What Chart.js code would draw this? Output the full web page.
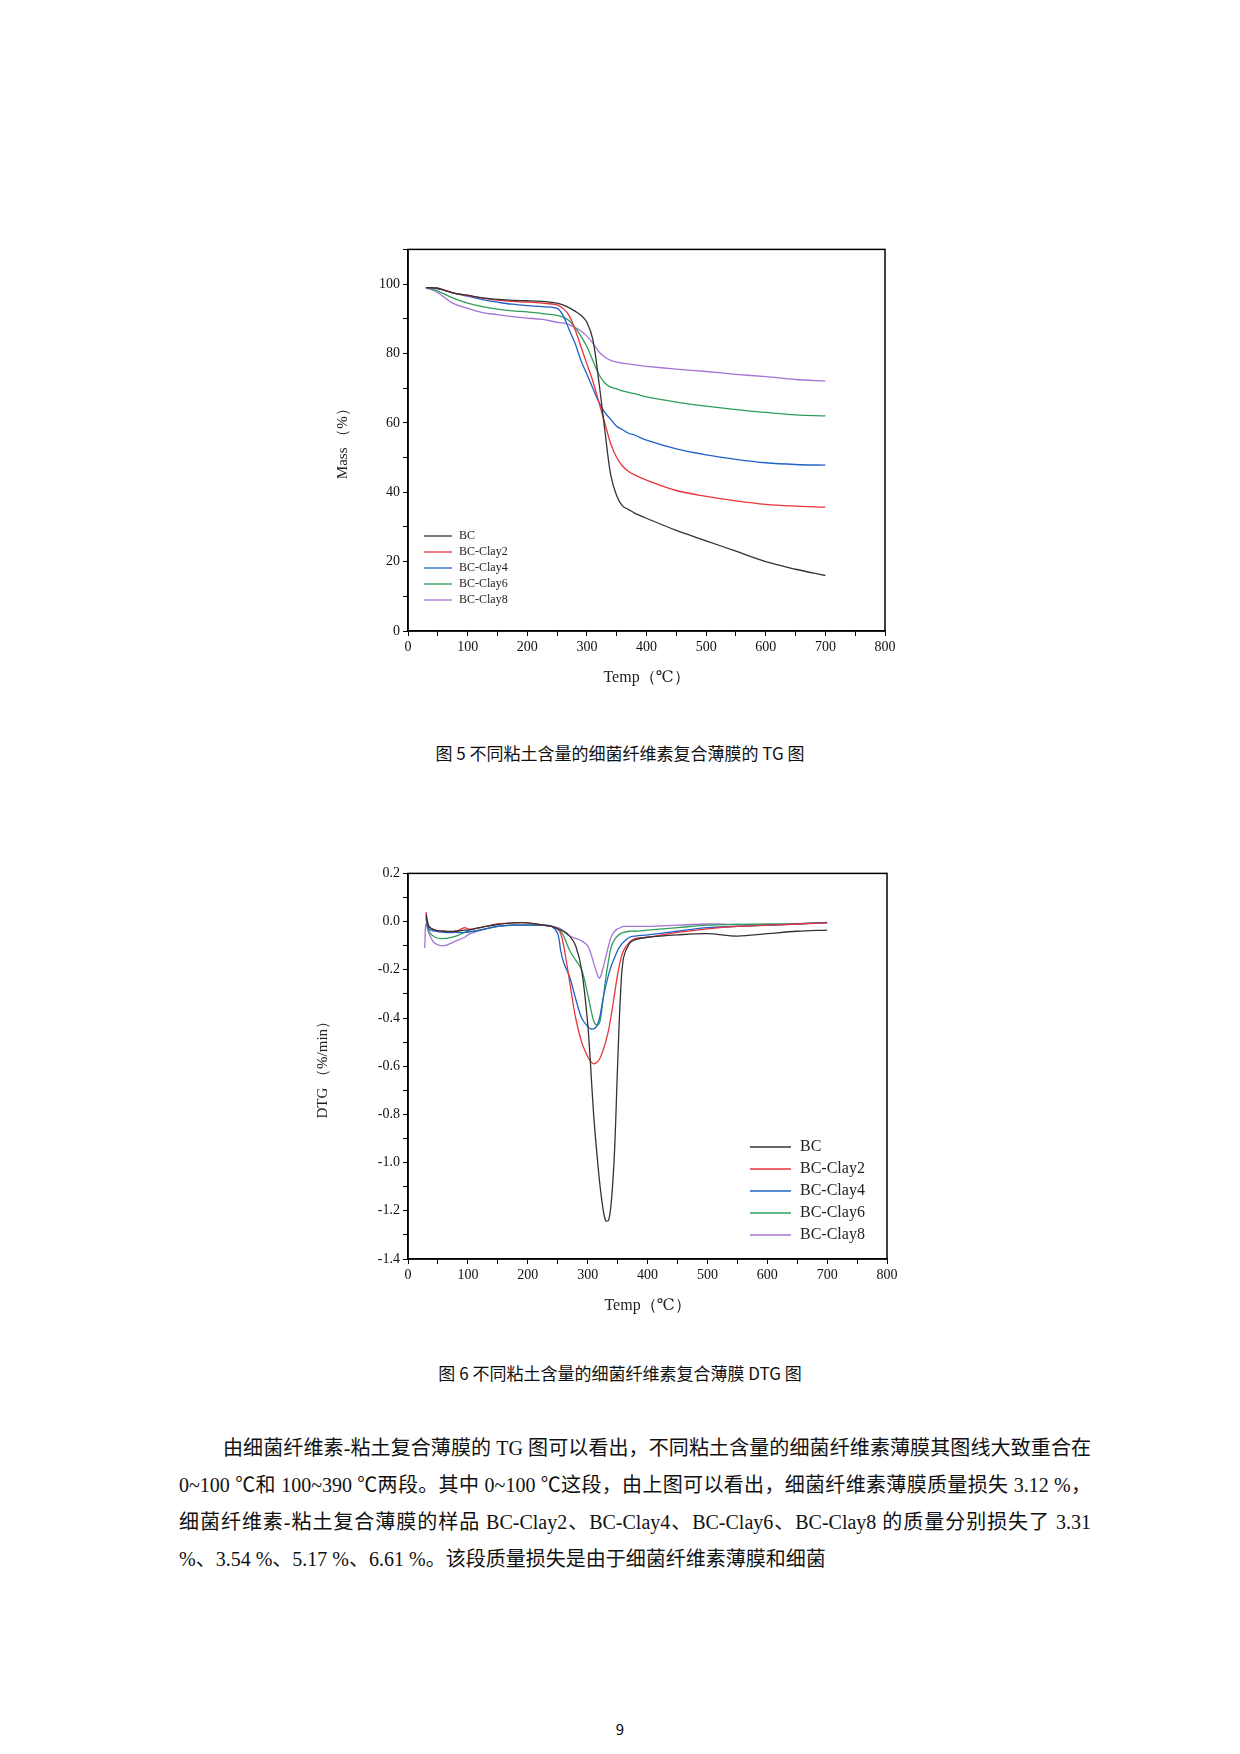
<!DOCTYPE html>
<html>
<head>
<meta charset="utf-8">
<script src="https://cdn.jsdelivr.net/npm/chart.js@4"></script>
<style>
  body { margin: 0; width: 1240px; height: 1754px; background: #fff; position: relative; font-family: "Noto Sans CJK SC", sans-serif; }
  .cv { position: absolute; }
  .cap { position: absolute; width: 1240px; text-align: center; font-size: 17px; color: #111; }
  .para { position: absolute; left: 179px; width: 912px; font-size: 20px; line-height: 37px; color: #111; text-align: justify; text-indent: 44px; top: 1430px;
          font-family: "Liberation Serif", "Noto Sans CJK SC", serif; }
  .pg { position: absolute; width: 1240px; top: 1718px; text-align: center; font-size: 15px; }
</style>
</head>
<body>
<div class="cv" style="left:330px;top:238px;width:570px;height:453px"><canvas id="tg"></canvas></div>
<div class="cap" style="top:740px">图 5 不同粘土含量的细菌纤维素复合薄膜的 TG 图</div>
<div class="cv" style="left:310px;top:862px;width:592px;height:457px"><canvas id="dtg"></canvas></div>
<div class="cap" style="top:1360px">图 6 不同粘土含量的细菌纤维素复合薄膜 DTG 图</div>
<div class="para">由细菌纤维素-粘土复合薄膜的 TG 图可以看出，不同粘土含量的细菌纤维素薄膜其图线大致重合在 0~100 ℃和 100~390 ℃两段。其中 0~100 ℃这段，由上图可以看出，细菌纤维素薄膜质量损失 3.12 %，细菌纤维素-粘土复合薄膜的样品 BC-Clay2、BC-Clay4、BC-Clay6、BC-Clay8 的质量分别损失了 3.31 %、3.54 %、5.17 %、6.61 %。该段质量损失是由于细菌纤维素薄膜和细菌</div>
<div class="pg">9</div>
<script>
'use strict';

const names = ["BC", "BC-Clay2", "BC-Clay4", "BC-Clay6", "BC-Clay8"];
const colors = ["#333333", "#e8333a", "#1f63c9", "#2e9e5b", "#a673d6"];

// --- TG data ---
const tgTemps = [30,50,75,100,125,150,175,200,225,250,260,270,280,290,300,310,320,330,340,350,360,370,380,400,450,500,550,600,650,700];
const tgBC    = [99,98.8,97.5,96.8,96,95.6,95.3,95.2,95,94.5,94,93.2,92.2,91,89,84,72,58,45,39,36,35,34,32.5,29,26,23,20,17.8,16];
const tgClay2 = [99,98.8,97.5,96.7,96,95.4,95,94.8,94.5,94,93,91,87,82,77,72,66,60,54,50,47.5,46,45,43.5,40.5,38.8,37.5,36.5,36,35.7];
const tgClay4 = [99,98.6,97.5,96.5,95.5,94.8,94.2,93.8,93.5,93,91,87,83,78,74,70,66,63,61,59,58,57,56.5,55,52.5,50.8,49.5,48.5,48,47.8];
const tgClay6 = [99,98,96,94.5,93.5,92.8,92.3,92,91.5,91,90.5,89.5,87.5,85,82,78,74,71.5,70.3,69.8,69.2,68.8,68.4,67.5,66,64.8,63.8,63,62.3,62];
const tgClay8 = [99,97.5,94.5,93,91.8,91.2,90.6,90.2,89.8,89,88.8,88.3,87.5,86.5,85,83,80.5,79,78,77.5,77.2,77,76.7,76.3,75.5,74.8,74,73.3,72.5,72];

// --- DTG data ---
const dtgTemps = [28,30,35,45,60,80,95,100,110,130,150,175,200,225,240,250,255,260,270,280,290,300,305,310,315,320,325,330,335,340,345,350,355,360,370,380,400,450,500,550,600,650,700];
const dtgBC    = [null,0.03,-0.02,-0.035,-0.04,-0.04,-0.035,-0.035,-0.03,-0.02,-0.012,-0.005,-0.005,-0.015,-0.02,-0.03,-0.035,-0.04,-0.06,-0.1,-0.2,-0.42,-0.6,-0.8,-0.95,-1.08,-1.18,-1.24,-1.24,-1.15,-0.95,-0.6,-0.3,-0.15,-0.09,-0.075,-0.065,-0.055,-0.05,-0.06,-0.05,-0.04,-0.035];
const dtgClay2 = [null,0.04,-0.02,-0.035,-0.04,-0.04,-0.025,-0.03,-0.03,-0.02,-0.01,-0.005,-0.005,-0.015,-0.02,-0.03,-0.05,-0.1,-0.25,-0.4,-0.5,-0.56,-0.58,-0.59,-0.585,-0.57,-0.54,-0.5,-0.45,-0.38,-0.3,-0.22,-0.16,-0.12,-0.085,-0.07,-0.065,-0.045,-0.03,-0.02,-0.015,-0.01,-0.005];
const dtgClay4 = [null,0.02,-0.03,-0.04,-0.045,-0.045,-0.045,-0.04,-0.04,-0.03,-0.02,-0.015,-0.015,-0.015,-0.02,-0.05,-0.12,-0.17,-0.23,-0.32,-0.4,-0.435,-0.445,-0.445,-0.435,-0.4,-0.33,-0.27,-0.22,-0.18,-0.15,-0.12,-0.1,-0.085,-0.065,-0.06,-0.055,-0.04,-0.025,-0.02,-0.015,-0.01,-0.003];
const dtgClay6 = [null,0.01,-0.04,-0.065,-0.07,-0.06,-0.045,-0.045,-0.04,-0.03,-0.02,-0.015,-0.015,-0.015,-0.02,-0.03,-0.04,-0.06,-0.12,-0.16,-0.2,-0.3,-0.36,-0.41,-0.43,-0.42,-0.34,-0.24,-0.16,-0.1,-0.075,-0.06,-0.05,-0.045,-0.04,-0.04,-0.035,-0.025,-0.015,-0.012,-0.01,-0.008,-0.005];
const dtgClay8 = [-0.11,-0.01,-0.05,-0.09,-0.1,-0.08,-0.065,-0.055,-0.045,-0.03,-0.02,-0.015,-0.015,-0.015,-0.02,-0.025,-0.03,-0.04,-0.06,-0.07,-0.08,-0.1,-0.13,-0.17,-0.21,-0.235,-0.2,-0.15,-0.1,-0.06,-0.04,-0.03,-0.025,-0.02,-0.02,-0.02,-0.02,-0.015,-0.01,-0.012,-0.015,-0.01,-0.005];

const axisFont = "'Liberation Serif', 'DejaVu Serif', serif";

function toPoints(xs, ys) {
  return xs.map((x, i) => ({ x: x, y: ys[i] }));
}

function makeDatasets(xs, series, width) {
  return series.map((s, i) => ({
    label: names[i],
    data: toPoints(xs, s),
    borderColor: colors[i],
    borderWidth: width,
    pointRadius: 0,
    tension: 0.35,
    fill: false
  }));
}

// frame + inner legend
function framePlugin(legend) {
  return {
    id: 'frame',
    afterDraw(chart) {
      const { ctx, chartArea: a } = chart;
      ctx.save();
      ctx.strokeStyle = '#000';
      ctx.lineWidth = 1.5;
      ctx.strokeRect(a.left, a.top, a.right - a.left, a.bottom - a.top);
      ctx.font = legend.size + "px " + axisFont;
      ctx.textBaseline = 'middle';
      chart.data.datasets.forEach((ds, i) => {
        const y = legend.y + i * legend.gap;
        ctx.strokeStyle = ds.borderColor;
        ctx.lineWidth = legend.lw;
        ctx.beginPath();
        ctx.moveTo(legend.x, y);
        ctx.lineTo(legend.x + legend.len, y);
        ctx.stroke();
        ctx.fillStyle = '#222';
        ctx.fillText(ds.label, legend.x + legend.len + legend.pad, y);
      });
      ctx.restore();
    }
  };
}

function makeOptions(cfg) {
  return {
    responsive: true,
    maintainAspectRatio: false,
    animation: false,
    layout: { padding: { top: 10, right: 15, left: 0, bottom: 0 } },
    plugins: { legend: { display: false }, tooltip: { enabled: false } },
    scales: {
      x: {
        type: 'linear', min: 0, max: 800,
        afterFit: s => { s.height = 60; },
        ticks: { stepSize: 50, color: '#111', font: { family: axisFont, size: 14 },
                 callback: v => (v % 100 === 0 ? v : '') , maxRotation: 0, autoSkip: false },
        grid: { drawOnChartArea: false, tickLength: 5, color: '#000' },
        border: { color: '#000', width: 1.5 },
        title: { display: true, text: 'Temp（℃）', color: '#222', font: { family: axisFont, size: 16 }, padding: { top: 2 } }
      },
      y: {
        min: cfg.ymin, max: cfg.ymax,
        afterFit: s => { s.width = cfg.yWidth; },
        ticks: { stepSize: cfg.minor, color: '#111', font: { family: axisFont, size: 14 }, autoSkip: false,
                 callback: cfg.tickCb },
        grid: { drawOnChartArea: false, tickLength: 5, color: '#000' },
        border: { color: '#000', width: 1.5 },
        title: { display: true, text: cfg.ytitle, color: '#222', font: { family: axisFont, size: 15 } }
      }
    }
  };
}

new Chart(document.getElementById('tg'), {
  type: 'line',
  data: { datasets: makeDatasets(tgTemps, [tgBC, tgClay2, tgClay4, tgClay6, tgClay8], 1.3) },
  options: makeOptions({
    ymin: 0, ymax: 110, minor: 10, yWidth: 78, ytitle: 'Mass （%）',
    tickCb: v => (v % 20 === 0 && v <= 100 ? v : '')
  }),
  plugins: [framePlugin({ x: 94, y: 298, gap: 16, len: 28, pad: 7, size: 12, lw: 1.3 })]
});

new Chart(document.getElementById('dtg'), {
  type: 'line',
  data: { datasets: makeDatasets(dtgTemps, [dtgBC, dtgClay2, dtgClay4, dtgClay6, dtgClay8], 1.3) },
  options: makeOptions({
    ymin: -1.4, ymax: 0.2, minor: 0.1, yWidth: 98, ytitle: 'DTG （%/min）',
    tickCb: v => {
      const r = Math.round(v * 10);
      return r % 2 === 0 ? (r / 10).toFixed(1) : '';
    }
  }),
  plugins: [framePlugin({ x: 440, y: 285, gap: 22, len: 41, pad: 9, size: 16, lw: 1.5 })]
});
</script>
</body>
</html>
